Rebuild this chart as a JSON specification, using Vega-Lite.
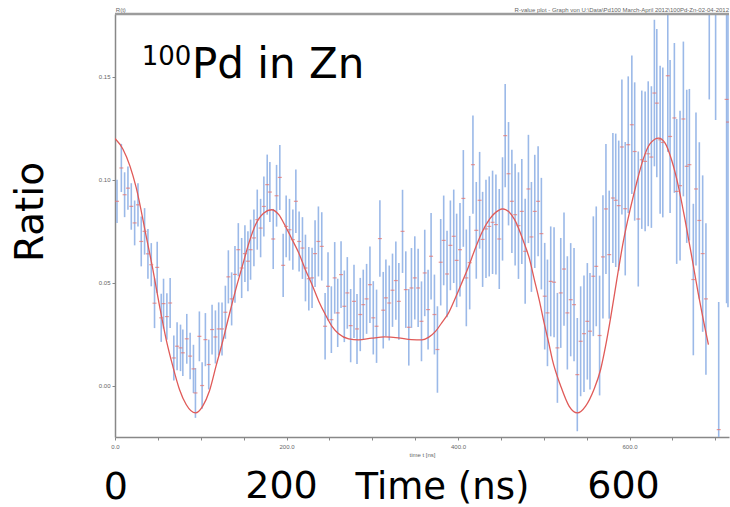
{
  "$schema": "https://vega.github.io/schema/vega-lite/v6.json",
  "width": 614,
  "height": 423,
  "autosize": {"type": "none"},
  "padding": {"left": 115, "top": 14, "right": 1, "bottom": 70},
  "background": "white",
  "config": {"view": {"stroke": null}, "font": "Liberation Sans"},
  "datasets": {
    "one": [{}],
    "pts": [
      {"t":2.3,"r":0.0895,"e":0.0105},{"t":7.4,"r":0.1057,"e":0.0117},{"t":11.2,"r":0.0927,"e":0.0109},{"t":15.1,"r":0.0959,"e":0.0105},
      {"t":19.0,"r":0.0870,"e":0.0113},{"t":22.9,"r":0.0790,"e":0.0109},{"t":26.8,"r":0.0878,"e":0.0105},{"t":30.6,"r":0.0700,"e":0.0121},
      {"t":34.5,"r":0.0749,"e":0.0113},{"t":38.4,"r":0.0640,"e":0.0121},{"t":42.3,"r":0.0587,"e":0.0105},{"t":46.1,"r":0.0400,"e":0.0121},
      {"t":49.2,"r":0.0574,"e":0.0125},{"t":53.9,"r":0.0329,"e":0.0117},{"t":56.6,"r":0.0398,"e":0.0121},{"t":60.5,"r":0.0335,"e":0.0113},
      {"t":64.3,"r":0.0401,"e":0.0121},{"t":68.6,"r":0.0134,"e":0.0109},{"t":72.4,"r":0.0191,"e":0.0117},{"t":76.4,"r":0.0183,"e":0.0113},
      {"t":79.1,"r":0.0159,"e":0.0113},{"t":83.7,"r":0.0227,"e":0.0121},{"t":87.6,"r":0.0143,"e":0.0113},{"t":91.5,"r":0.0081,"e":0.0117},
      {"t":93.8,"r":-0.0036,"e":0.0121},{"t":98.4,"r":0.0239,"e":0.0121},{"t":101.6,"r":0.0000,"e":0.0113},{"t":105.4,"r":0.0223,"e":0.0129},
      {"t":109.3,"r":0.0102,"e":0.0121},{"t":113.2,"r":0.0272,"e":0.0121},{"t":117.1,"r":0.0236,"e":0.0129},{"t":120.9,"r":0.0275,"e":0.0129},
      {"t":124.8,"r":0.0275,"e":0.0129},{"t":128.7,"r":0.0356,"e":0.0129},{"t":132.2,"r":0.0528,"e":0.0129},{"t":136.0,"r":0.0421,"e":0.0129},
      {"t":139.9,"r":0.0540,"e":0.0138},{"t":143.8,"r":0.0660,"e":0.0129},{"t":147.7,"r":0.0571,"e":0.0146},{"t":151.5,"r":0.0641,"e":0.0138},
      {"t":155.0,"r":0.0604,"e":0.0146},{"t":158.1,"r":0.0660,"e":0.0146},{"t":162.0,"r":0.0717,"e":0.0138},{"t":165.9,"r":0.0806,"e":0.0146},
      {"t":169.8,"r":0.0765,"e":0.0142},{"t":173.6,"r":0.0870,"e":0.0146},{"t":177.5,"r":0.0976,"e":0.0146},{"t":180.6,"r":0.0940,"e":0.0146},
      {"t":184.5,"r":0.0712,"e":0.0146},{"t":188.4,"r":0.0922,"e":0.0150},{"t":192.2,"r":0.1011,"e":0.0158},{"t":196.1,"r":0.0584,"e":0.0154},
      {"t":199.6,"r":0.0773,"e":0.0150},{"t":203.5,"r":0.0757,"e":0.0150},{"t":207.4,"r":0.0709,"e":0.0146},{"t":210.9,"r":0.0895,"e":0.0154},
      {"t":214.7,"r":0.0700,"e":0.0146},{"t":218.6,"r":0.0668,"e":0.0150},{"t":222.1,"r":0.0571,"e":0.0162},{"t":226.0,"r":0.0519,"e":0.0154},
      {"t":229.8,"r":0.0523,"e":0.0146},{"t":233.3,"r":0.0641,"e":0.0162},{"t":237.2,"r":0.0700,"e":0.0170},{"t":241.1,"r":0.0676,"e":0.0166},
      {"t":245.0,"r":0.0288,"e":0.0162},{"t":248.4,"r":0.0482,"e":0.0166},{"t":252.3,"r":0.0320,"e":0.0162},{"t":256.2,"r":0.0523,"e":0.0174},
      {"t":259.7,"r":0.0353,"e":0.0166},{"t":263.6,"r":0.0539,"e":0.0162},{"t":267.4,"r":0.0385,"e":0.0174},{"t":270.9,"r":0.0450,"e":0.0174},
      {"t":274.8,"r":0.0291,"e":0.0178},{"t":278.7,"r":0.0409,"e":0.0178},{"t":282.2,"r":0.0275,"e":0.0170},{"t":286.0,"r":0.0345,"e":0.0178},
      {"t":289.5,"r":0.0393,"e":0.0170},{"t":293.4,"r":0.0421,"e":0.0170},{"t":297.3,"r":0.0490,"e":0.0186},{"t":301.2,"r":0.0329,"e":0.0178},
      {"t":305.0,"r":0.0288,"e":0.0178},{"t":308.9,"r":0.0714,"e":0.0186},{"t":312.8,"r":0.0366,"e":0.0186},{"t":315.9,"r":0.0426,"e":0.0186},
      {"t":319.8,"r":0.0401,"e":0.0182},{"t":323.6,"r":0.0463,"e":0.0178},{"t":327.5,"r":0.0510,"e":0.0190},{"t":331.0,"r":0.0409,"e":0.0186},
      {"t":335.3,"r":0.0749,"e":0.0202},{"t":339.1,"r":0.0466,"e":0.0186},{"t":342.6,"r":0.0283,"e":0.0186},{"t":345.7,"r":0.0474,"e":0.0194},
      {"t":349.6,"r":0.0523,"e":0.0202},{"t":353.5,"r":0.0474,"e":0.0190},{"t":357.4,"r":0.0312,"e":0.0194},{"t":361.2,"r":0.0547,"e":0.0210},
      {"t":365.1,"r":0.0369,"e":0.0194},{"t":368.6,"r":0.0628,"e":0.0210},{"t":372.5,"r":0.0345,"e":0.0194},{"t":376.0,"r":0.0175,"e":0.0210},
      {"t":379.8,"r":0.0599,"e":0.0210},{"t":383.3,"r":0.0705,"e":0.0218},{"t":387.2,"r":0.0542,"e":0.0210},{"t":391.1,"r":0.0681,"e":0.0218},
      {"t":395.0,"r":0.0725,"e":0.0227},{"t":398.4,"r":0.0608,"e":0.0227},{"t":402.3,"r":0.0660,"e":0.0227},{"t":406.2,"r":0.0909,"e":0.0235},
      {"t":409.7,"r":0.0523,"e":0.0235},{"t":413.6,"r":0.0597,"e":0.0227},{"t":417.4,"r":0.1073,"e":0.0239},{"t":421.3,"r":0.0754,"e":0.0235},
      {"t":425.2,"r":0.0900,"e":0.0235},{"t":428.7,"r":0.0710,"e":0.0231},{"t":432.6,"r":0.0761,"e":0.0239},{"t":436.4,"r":0.0773,"e":0.0243},
      {"t":440.3,"r":0.0793,"e":0.0251},{"t":444.2,"r":0.0782,"e":0.0243},{"t":448.1,"r":0.0712,"e":0.0243},{"t":451.9,"r":0.0858,"e":0.0251},
      {"t":455.0,"r":0.1214,"e":0.0251},{"t":458.9,"r":0.1029,"e":0.0251},{"t":462.8,"r":0.0895,"e":0.0251},{"t":466.6,"r":0.0830,"e":0.0247},
      {"t":470.5,"r":0.0777,"e":0.0259},{"t":474.4,"r":0.0846,"e":0.0255},{"t":478.3,"r":0.0652,"e":0.0255},{"t":482.1,"r":0.0955,"e":0.0263},
      {"t":485.6,"r":0.0722,"e":0.0267},{"t":489.5,"r":0.0846,"e":0.0275},{"t":493.4,"r":0.0895,"e":0.0267},{"t":497.2,"r":0.0738,"e":0.0271},
      {"t":501.1,"r":0.0434,"e":0.0259},{"t":504.3,"r":0.0353,"e":0.0259},{"t":508.1,"r":0.0506,"e":0.0267},{"t":512.0,"r":0.0502,"e":0.0267},
      {"t":515.9,"r":0.0183,"e":0.0267},{"t":519.8,"r":0.0450,"e":0.0267},{"t":523.6,"r":0.0566,"e":0.0275},{"t":527.5,"r":0.0353,"e":0.0275},
      {"t":531.4,"r":0.0417,"e":0.0275},{"t":535.3,"r":0.0393,"e":0.0275},{"t":539.1,"r":0.0053,"e":0.0275},{"t":543.0,"r":0.0215,"e":0.0267},
      {"t":546.9,"r":0.0252,"e":0.0283},{"t":550.8,"r":0.0312,"e":0.0283},{"t":553.9,"r":0.0264,"e":0.0283},{"t":557.8,"r":0.0531,"e":0.0291},
      {"t":561.2,"r":0.0579,"e":0.0291},{"t":565.1,"r":0.0243,"e":0.0291},{"t":569.0,"r":0.0625,"e":0.0299},{"t":572.5,"r":0.0858,"e":0.0316},
      {"t":576.3,"r":0.0636,"e":0.0311},{"t":580.6,"r":0.0911,"e":0.0316},{"t":583.9,"r":0.0900,"e":0.0324},{"t":587.4,"r":0.0874,"e":0.0316},
      {"t":591.1,"r":0.1159,"e":0.0328},{"t":595.0,"r":0.0859,"e":0.0324},{"t":598.5,"r":0.1170,"e":0.0332},{"t":602.7,"r":0.1267,"e":0.0336},
      {"t":606.0,"r":0.1137,"e":0.0336},{"t":610.2,"r":0.0809,"e":0.0328},{"t":614.3,"r":0.1097,"e":0.0336},{"t":618.2,"r":0.1089,"e":0.0340},
      {"t":621.8,"r":0.1126,"e":0.0352},{"t":625.5,"r":0.1110,"e":0.0344},{"t":629.0,"r":0.1421,"e":0.0356},{"t":631.8,"r":0.1372,"e":0.0360},
      {"t":635.7,"r":0.1194,"e":0.0360},{"t":638.8,"r":0.1181,"e":0.0364},{"t":644.6,"r":0.1505,"e":0.0370},{"t":647.3,"r":0.1210,"e":0.0372},
      {"t":652.3,"r":0.1300,"e":0.0364},{"t":655.0,"r":0.0943,"e":0.0352},{"t":658.9,"r":0.0971,"e":0.0364},{"t":662.8,"r":0.1295,"e":0.0376},
      {"t":666.7,"r":0.1065,"e":0.0372},{"t":669.8,"r":0.1073,"e":0.0368},{"t":674.4,"r":0.0515,"e":0.0368},{"t":677.5,"r":0.0955,"e":0.0372},
      {"t":681.4,"r":0.0802,"e":0.0380},{"t":685.3,"r":0.0641,"e":0.0380},{"t":689.1,"r":0.0421,"e":0.0368},{"t":693.0,"r":0.2000,"e":0.0610},
      {"t":700.4,"r":0.1900,"e":0.0610},{"t":704.0,"r":-0.0214,"e":0.0620},{"t":713.2,"r":0.1390,"e":0.0990},{"t":714.8,"r":0.1280,"e":0.0900}
    ],
    "fit": [
      {"t":0,"f":0.1200},{"t":9.3,"f":0.1148},{"t":24.8,"f":0.0960},{"t":36.4,"f":0.0725},{"t":44.2,"f":0.0563},{"t":52,"f":0.0385},
      {"t":59.7,"f":0.0223},{"t":67.4,"f":0.0094},{"t":75.2,"f":-0.0019},{"t":83,"f":-0.0092},{"t":93.8,"f":-0.0133},{"t":102.3,"f":-0.0100},
      {"t":110,"f":-0.0028},{"t":117.8,"f":0.0094},{"t":125.6,"f":0.0215},{"t":133.3,"f":0.0345},{"t":140.7,"f":0.0465},{"t":148.4,"f":0.0579},
      {"t":156.2,"f":0.0693},{"t":164,"f":0.0782},{"t":173.6,"f":0.0838},{"t":182.6,"f":0.0854},{"t":191,"f":0.0830},{"t":198.8,"f":0.0773},
      {"t":206.6,"f":0.0709},{"t":214.3,"f":0.0644},{"t":222,"f":0.0563},{"t":229.8,"f":0.0490},{"t":237.6,"f":0.0410},{"t":245.3,"f":0.0345},
      {"t":253,"f":0.0288},{"t":260.8,"f":0.0252},{"t":272.5,"f":0.0227},{"t":284,"f":0.0222},{"t":299.2,"f":0.0230},{"t":314.7,"f":0.0236},
      {"t":330.2,"f":0.0232},{"t":345.7,"f":0.0223},{"t":358,"f":0.0222},{"t":366,"f":0.0235},{"t":374,"f":0.0264},{"t":381,"f":0.0305},
      {"t":389,"f":0.0353},{"t":396,"f":0.0417},{"t":404,"f":0.0495},{"t":412,"f":0.0575},{"t":420,"f":0.0665},{"t":428,"f":0.0745},
      {"t":437,"f":0.0810},{"t":445,"f":0.0845},{"t":452,"f":0.0858},{"t":459,"f":0.0845},{"t":466,"f":0.0806},{"t":477,"f":0.0693},
      {"t":483,"f":0.0620},{"t":489,"f":0.0515},{"t":495,"f":0.0410},{"t":500.4,"f":0.0304},{"t":505.8,"f":0.0207},{"t":510,"f":0.0126},
      {"t":519.8,"f":-0.0003},{"t":529.5,"f":-0.0100},{"t":539.2,"f":-0.0133},{"t":548.8,"f":-0.0100},{"t":558.5,"f":-0.0019},{"t":566.3,"f":0.0078},
      {"t":572,"f":0.0190},{"t":578,"f":0.0330},{"t":585,"f":0.0510},{"t":593,"f":0.0705},{"t":601,"f":0.0860},{"t":608,"f":0.0980},
      {"t":616,"f":0.1100},{"t":624,"f":0.1175},{"t":634,"f":0.1202},{"t":641.5,"f":0.1178},{"t":649,"f":0.1097},{"t":657,"f":0.0968},
      {"t":664.7,"f":0.0806},{"t":672.5,"f":0.0628},{"t":680,"f":0.0450},{"t":686,"f":0.0320},{"t":692,"f":0.0199}
    ]
  },
  "layer": [
    {
      "data": {"name": "pts"},
      "mark": {"type": "errorbar", "clip": true, "color": "#9bb9e8", "thickness": 1.6},
      "encoding": {
        "x": {
          "field": "t", "type": "quantitative",
          "scale": {"domain": [0, 716], "nice": false, "zero": false},
          "axis": {
            "values": [0,50,100,150,200,250,300,350,400,450,500,550,600,650,700],
            "labelExpr": "datum.value % 200 === 0 ? format(datum.value, '.1f') : ''",
            "labelOverlap": false, "labelFlush": false, "labelFontSize": 6, "labelColor": "#666",
            "labelPadding": 3, "tickSize": 3, "tickColor": "#888", "domainColor": "#888", "domainWidth": 1.5,
            "grid": false, "title": "time t [ns]", "titleFontSize": 6, "titleFontWeight": "normal",
            "titleColor": "#666", "titlePadding": 2
          }
        },
        "y": {
          "field": "r", "type": "quantitative", "title": null,
          "scale": {"domain": [-0.025, 0.1805], "nice": false, "zero": false},
          "axis": {
            "values": [0, 0.05, 0.1, 0.15], "format": ".2f", "labelFontSize": 6, "labelColor": "#666",
            "labelPadding": 2, "tickSize": 3, "tickColor": "#888", "domainColor": "#888", "domainWidth": 1.5,
            "grid": false, "title": null
          }
        },
        "yError": {"field": "e"}
      }
    },
    {
      "data": {"name": "fit"},
      "mark": {"type": "line", "color": "#e05a58", "strokeWidth": 1.3, "interpolate": "monotone", "clip": true},
      "encoding": {
        "x": {"field": "t", "type": "quantitative"},
        "y": {"field": "f", "type": "quantitative", "title": null}
      }
    },
    {
      "data": {"name": "pts"},
      "mark": {"type": "tick", "orient": "horizontal", "color": "#e4706c", "size": 4, "thickness": 1.2, "clip": true},
      "encoding": {
        "x": {"field": "t", "type": "quantitative"},
        "y": {"field": "r", "type": "quantitative", "title": null}
      }
    },
    {
      "data": {"name": "one"},
      "mark": {"type": "rule", "color": "#9c9c9c", "strokeWidth": 2.5},
      "encoding": {"y": {"datum": 0.1805}}
    },
    {
      "data": {"name": "one"},
      "mark": {"type": "text", "text": "R(t)", "fontSize": 6, "color": "#666", "align": "left", "baseline": "alphabetic"},
      "encoding": {"x": {"datum": 1}, "y": {"datum": 0.1817}}
    },
    {
      "data": {"name": "one"},
      "mark": {"type": "text", "text": "R-value plot - Graph von U:\\Data\\Pd100 March-April 2012\\100Pd-Zn-02-04-2012", "fontSize": 6, "color": "#666", "align": "right", "baseline": "alphabetic"},
      "encoding": {"x": {"datum": 716}, "y": {"datum": 0.1817}}
    },
    {
      "data": {"name": "one"},
      "mark": {"type": "text", "text": "Ratio", "angle": 270, "fontSize": 39, "font": "DejaVu Sans", "color": "black", "align": "center", "baseline": "middle"},
      "encoding": {"x": {"datum": -98}, "y": {"datum": 0.0843}}
    },
    {
      "data": {"name": "one"},
      "mark": {"type": "text", "text": "0", "fontSize": 38, "font": "DejaVu Sans", "color": "black", "align": "center", "baseline": "alphabetic"},
      "encoding": {"x": {"datum": 1}, "y": {"datum": -0.0549}}
    },
    {
      "data": {"name": "one"},
      "mark": {"type": "text", "text": "200", "fontSize": 38, "font": "DejaVu Sans", "color": "black", "align": "center", "baseline": "alphabetic"},
      "encoding": {"x": {"datum": 194.2}, "y": {"datum": -0.0548}}
    },
    {
      "data": {"name": "one"},
      "mark": {"type": "text", "text": "Time (ns)", "fontSize": 37, "font": "DejaVu Sans", "color": "black", "align": "center", "baseline": "alphabetic"},
      "encoding": {"x": {"datum": 381.9}, "y": {"datum": -0.0549}}
    },
    {
      "data": {"name": "one"},
      "mark": {"type": "text", "text": "600", "fontSize": 38, "font": "DejaVu Sans", "color": "black", "align": "center", "baseline": "alphabetic"},
      "encoding": {"x": {"datum": 593}, "y": {"datum": -0.0546}}
    },
    {
      "data": {"name": "one"},
      "mark": {"type": "text", "text": "100", "fontSize": 26, "font": "DejaVu Sans", "color": "black", "align": "left", "baseline": "alphabetic"},
      "encoding": {"x": {"datum": 31.1}, "y": {"datum": 0.1557}}
    },
    {
      "data": {"name": "one"},
      "mark": {"type": "text", "text": "Pd in Zn", "fontSize": 42, "font": "DejaVu Sans", "color": "black", "align": "left", "baseline": "alphabetic"},
      "encoding": {"x": {"datum": 89.8}, "y": {"datum": 0.1493}}
    }
  ]
}
